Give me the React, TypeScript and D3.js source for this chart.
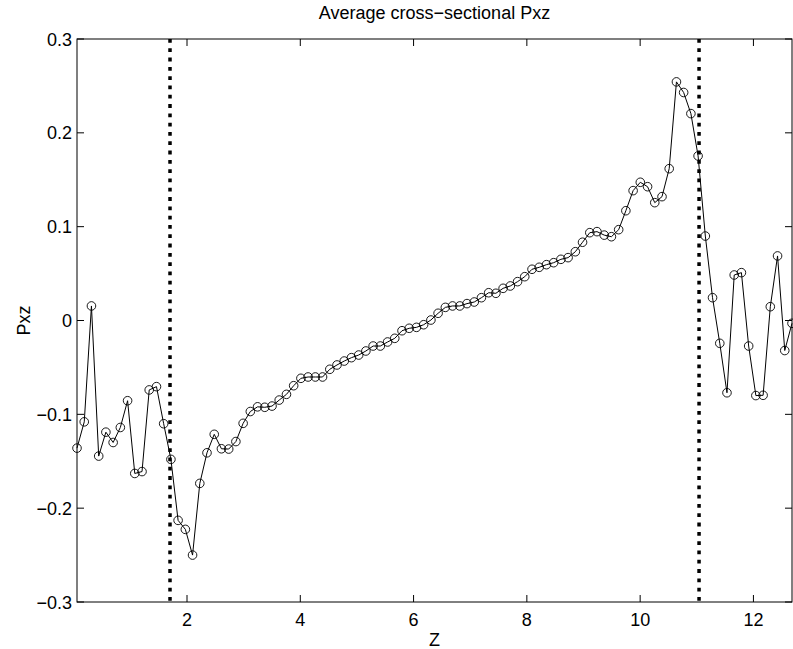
import React from "react";
import * as d3 from "d3";

const zValues: number[] = [
  0.058, 0.186, 0.313, 0.441, 0.568, 0.696, 0.823, 0.951, 1.078, 1.206,
  1.333, 1.461, 1.588, 1.716, 1.843, 1.971, 2.098, 2.226, 2.353, 2.481,
  2.608, 2.736, 2.863, 2.991, 3.118, 3.246, 3.373, 3.501, 3.628, 3.756,
  3.883, 4.011, 4.138, 4.266, 4.393, 4.521, 4.648, 4.776, 4.903, 5.031,
  5.158, 5.286, 5.413, 5.541, 5.668, 5.796, 5.923, 6.051, 6.178, 6.306,
  6.433, 6.561, 6.688, 6.816, 6.943, 7.071, 7.198, 7.326, 7.453, 7.581,
  7.708, 7.836, 7.963, 8.091, 8.218, 8.346, 8.473, 8.601, 8.728, 8.856,
  8.983, 9.111, 9.238, 9.366, 9.493, 9.621, 9.748, 9.876, 10.003, 10.131,
  10.258, 10.386, 10.513, 10.641, 10.768, 10.896, 11.023, 11.151, 11.278, 11.406,
  11.533, 11.661, 11.788, 11.916, 12.043, 12.171, 12.298, 12.426, 12.553, 12.681,
];

const pxzValues: number[] = [
  -0.136, -0.108, 0.0155, -0.1445, -0.119, -0.130, -0.114, -0.0855, -0.163, -0.161,
  -0.074, -0.0705, -0.110, -0.148, -0.213, -0.2226, -0.250, -0.1736, -0.141, -0.1213,
  -0.1367, -0.137, -0.129, -0.1096, -0.097, -0.092, -0.0925, -0.0912, -0.0848, -0.0787,
  -0.0695, -0.0616, -0.0602, -0.0602, -0.0602, -0.052, -0.0474, -0.0432, -0.0396, -0.0368,
  -0.0325, -0.0272, -0.0272, -0.0229, -0.019, -0.0109, -0.0083, -0.0073, -0.0045, 0.0005,
  0.0077, 0.014, 0.0155, 0.0155, 0.018, 0.0197, 0.0243, 0.0296, 0.029, 0.0343,
  0.0368, 0.0414, 0.0467, 0.0546, 0.0567, 0.0595, 0.0616, 0.0652, 0.067, 0.0733,
  0.0834, 0.0936, 0.0947, 0.091, 0.0893, 0.0968, 0.117, 0.1384, 0.1473, 0.1426,
  0.1256, 0.132, 0.1618, 0.2543, 0.243, 0.2205, 0.1754, 0.090, 0.0243, -0.0243,
  -0.077, 0.0485, 0.051, -0.0272, -0.080, -0.0797, 0.0147, 0.0688, -0.032, -0.003,
];

const boundaryZ: number[] = [1.70, 11.04];
const xTicks: number[] = [2, 4, 6, 8, 10, 12];
const yTicks: number[] = [-0.3, -0.2, -0.1, 0, 0.1, 0.2, 0.3];
const yTickLabels: string[] = ["\u22120.3", "\u22120.2", "\u22120.1", "0", "0.1", "0.2", "0.3"];

const W = 793;
const H = 649;
const left = 77;
const right = 792;
const top = 39;
const bottom = 602;
const FONT = "'Liberation Sans', Arial, Helvetica, sans-serif";

export default function App() {
  const x = d3.scaleLinear().domain([zValues[0], zValues[zValues.length - 1]]).range([left, right]);
  const y = d3.scaleLinear().domain([-0.3, 0.3]).range([bottom, top]);
  const pts = zValues.map((z, i) => [z, pxzValues[i]] as [number, number]);
  const line = d3.line<[number, number]>().x((d) => x(d[0])).y((d) => y(d[1]));
  const tickLen = 7;

  return (
    <svg width={W} height={H} style={{ position: "absolute", left: 0, top: 0, background: "#fff" }} fontFamily={FONT}>
      <rect x={0} y={0} width={W} height={H} fill="#fff" />
      {/* box */}
      <rect x={left} y={top} width={right - left} height={bottom - top} fill="none" stroke="#000" strokeWidth={1} />
      {/* x ticks */}
      {xTicks.map((t) => (
        <g key={"xt" + t}>
          <line x1={x(t)} x2={x(t)} y1={bottom} y2={bottom - tickLen} stroke="#000" strokeWidth={1} />
          <line x1={x(t)} x2={x(t)} y1={top} y2={top + tickLen} stroke="#000" strokeWidth={1} />
          <text x={x(t)} y={bottom + 24} textAnchor="middle" fontSize={18} fill="#000">{t}</text>
        </g>
      ))}
      {/* y ticks */}
      {yTicks.map((t, i) => (
        <g key={"yt" + t}>
          <line x1={left} x2={left + tickLen} y1={y(t)} y2={y(t)} stroke="#000" strokeWidth={1} />
          <line x1={right} x2={right - tickLen} y1={y(t)} y2={y(t)} stroke="#000" strokeWidth={1} />
          <text x={left - 5} y={y(t) + 6.5} textAnchor="end" fontSize={18} fill="#000">{yTickLabels[i]}</text>
        </g>
      ))}
      {/* boundary dotted lines */}
      {boundaryZ.map((b) => (
        <line key={"b" + b} x1={x(b)} x2={x(b)} y1={top} y2={bottom} stroke="#000" strokeWidth={3.5} strokeDasharray="3.8 5.5" />
      ))}
      {/* data */}
      <path d={line(pts) || ""} fill="none" stroke="#000" strokeWidth={1} />
      {pts.map((d, i) => (
        <circle key={"p" + i} cx={x(d[0])} cy={y(d[1])} r={4.3} fill="none" stroke="#000" strokeWidth={0.9} />
      ))}
      {/* labels */}
      <text x={(left + right) / 2} y={19} textAnchor="middle" fontSize={18} fill="#000">Average cross{"\u2212"}sectional Pxz</text>
      <text x={(left + right) / 2} y={646} textAnchor="middle" fontSize={18} fill="#000">Z</text>
      <text transform={`translate(30,${(top + bottom) / 2}) rotate(-90)`} textAnchor="middle" fontSize={18} fill="#000">Pxz</text>
    </svg>
  );
}
